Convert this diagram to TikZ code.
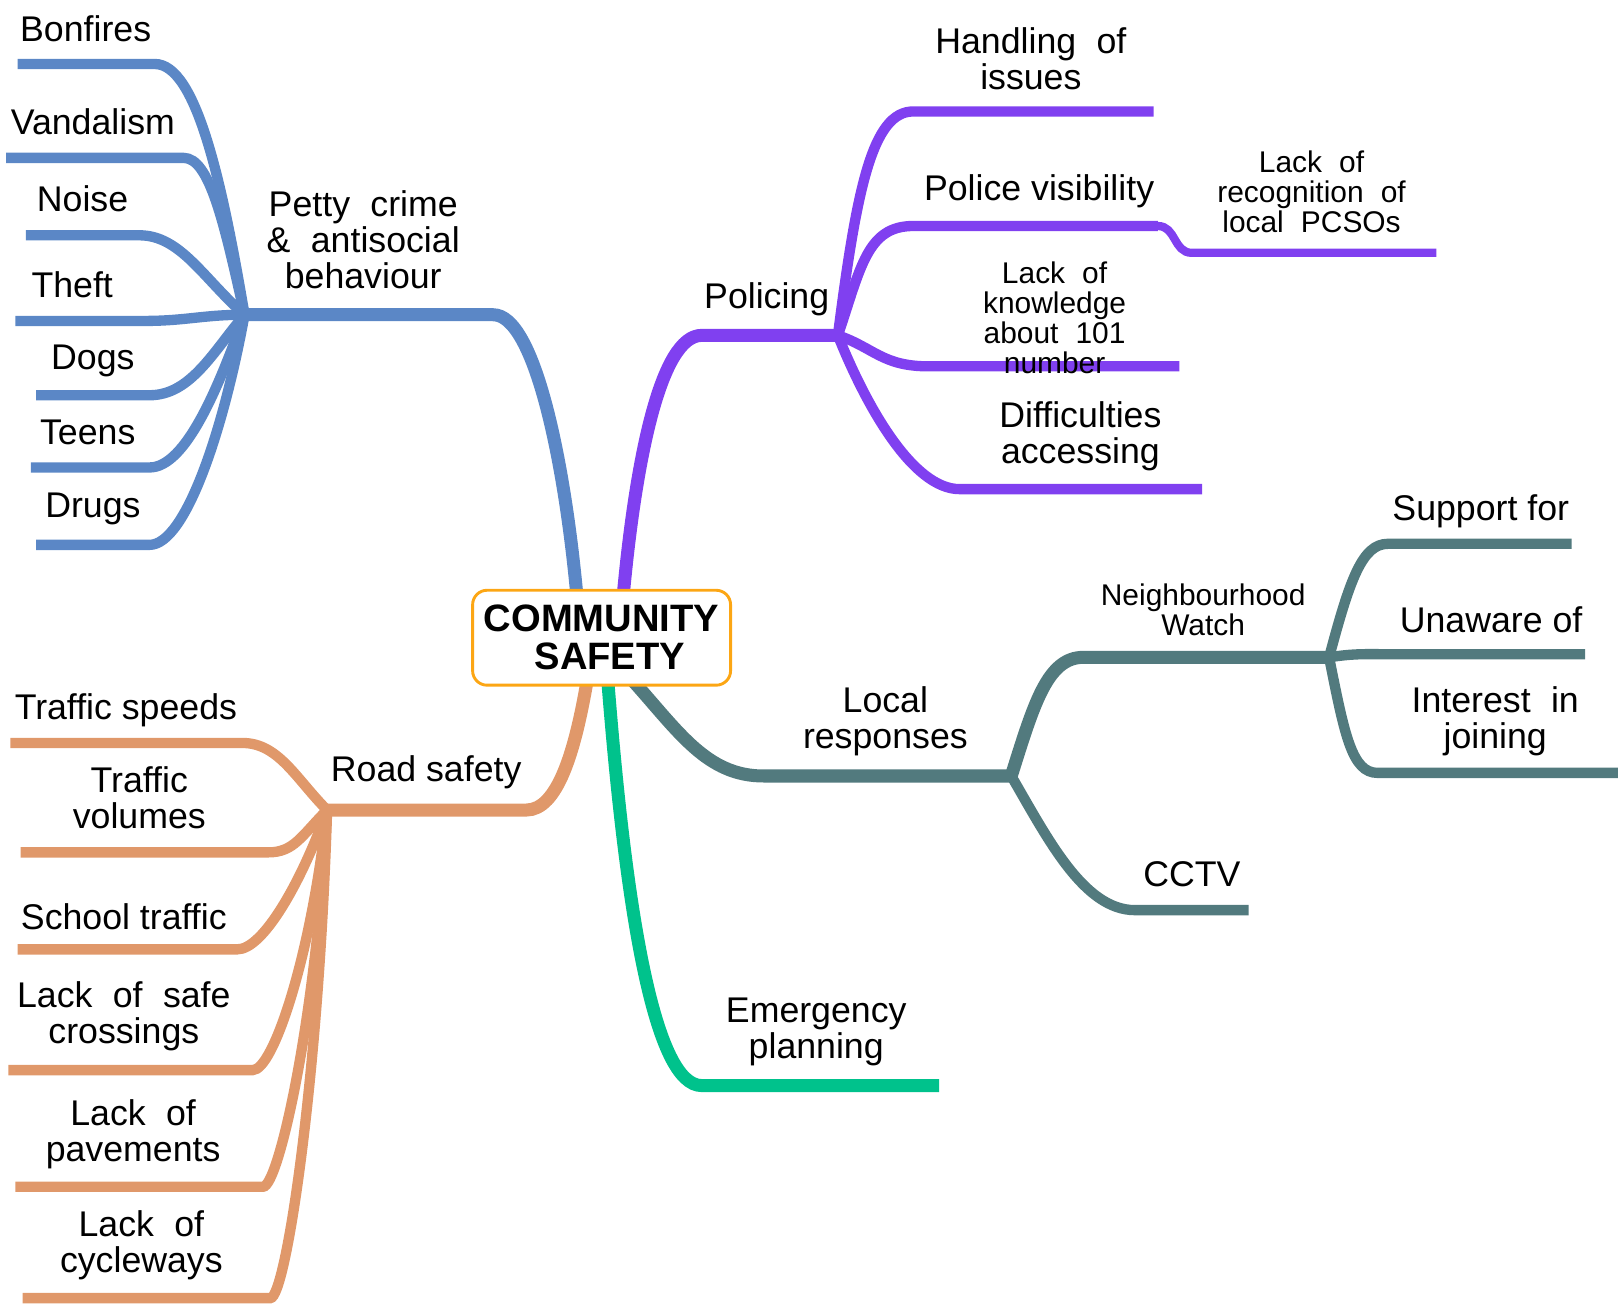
\documentclass[tikz,border=0pt]{standalone}
\usepackage{fontspec}
\setmainfont{Liberation Sans}
\usepackage{tikz}
\usetikzlibrary{backgrounds}
\definecolor{pettyblue}{RGB}{91,135,198}
\definecolor{policepurple}{RGB}{128,64,240}
\definecolor{localteal}{RGB}{82,122,126}
\definecolor{emergreen}{RGB}{0,194,140}
\definecolor{roadorange}{RGB}{224,152,106}
\definecolor{boxorange}{RGB}{252,166,20}
\newcommand{\widespaces}{\spaceskip=0.57em\relax}

\begin{document}
\begin{tikzpicture}[x=0.5pt, y=-0.5pt,
  trunk/.style={line width=6.3pt},
  leaf/.style={line width=5pt},
  twig/.style={line width=4pt},
  lbl/.style={font=\fontsize{17.3}{17.5}\selectfont, align=center, inner sep=0pt, yshift=-1.5pt},
  wide/.style={lbl, execute at begin node=\widespaces},
  small/.style={font=\fontsize{14.5}{14.5}\selectfont, align=center, inner sep=0pt, yshift=-1pt, execute at begin node=\widespaces}]
  \useasboundingbox (0,0) rectangle (1568,1266);
  % Centre
  \node[draw=boxorange, line width=1.4pt, rounded corners=7pt, fill=white,
    minimum width=125pt, minimum height=46pt, align=center,
    font=\fontsize{18.5}{18.5}\selectfont\bfseries] (cs) at (583,618) {COMMUNITY\\\hspace*{8pt}SAFETY};
  % Hubs
  \coordinate (pc) at (237,305);
  \coordinate (pc-t) at (478,305);
  \coordinate (pp) at (812,325);
  \coordinate (pp-t) at (680,325);
  \coordinate (lr) at (980,752);
  \coordinate (lr-t) at (740,752);
  \coordinate (nw) at (1288,637);
  \coordinate (nw-t) at (1050,637);
  \coordinate (ep-t) at (680,1052);
  \coordinate (ep-e) at (910,1052);
  \coordinate (rs) at (317,785);
  \coordinate (rs-t) at (510,785);
  % Trunks
  \begin{scope}[on background layer]
    \draw[pettyblue, trunk] ([xshift=-12pt,yshift=-3pt]cs.north) .. controls +(-12,-130) and +(40,0) .. (pc-t) -- (pc);
    \draw[policepurple, trunk] ([xshift=10.5pt,yshift=-3pt]cs.north) .. controls +(12,-130) and +(-40,0) .. (pp-t) -- (pp);
    \draw[roadorange, trunk] ([xshift=-7pt,yshift=3pt]cs.south) .. controls +(-12,70) and +(30,0) .. (rs-t) -- (rs);
    \draw[emergreen, trunk] ([xshift=3pt,yshift=3pt]cs.south) .. controls +(18,230) and +(-45,0) .. (ep-t) -- (ep-e);
    \draw[localteal, trunk] ([xshift=15pt,yshift=3pt]cs.south) .. controls +(45,50) and +(-55,0) .. (lr-t) -- (lr);
  \end{scope}

  % Petty crime & antisocial behaviour
  \node[wide] (petty) at (352,229) {Petty crime\\\& antisocial\\behaviour};
  \node[lbl] (bonfires) at (83,25) {Bonfires};
  \node[lbl] (vandalism) at (90,115) {Vandalism};
  \node[lbl] (noise) at (80,190) {Noise};
  \node[lbl] (theft) at (70,273) {Theft};
  \node[lbl] (dogs) at (90,347) {Dogs};
  \node[lbl] (teens) at (85,416) {Teens};
  \node[lbl] (drugs) at (90,490) {Drugs};
  \coordinate (bonfires-j) at (150,62);   \coordinate (bonfires-e) at (17,62);
  \coordinate (vandalism-j) at (178,153); \coordinate (vandalism-e) at (6,153);
  \coordinate (noise-j) at (135,228);     \coordinate (noise-e) at (25,228);
  \coordinate (theft-j) at (140,311);     \coordinate (theft-e) at (15,311);
  \coordinate (dogs-j) at (145,383);      \coordinate (dogs-e) at (35,383);
  \coordinate (teens-j) at (145,453);     \coordinate (teens-e) at (30,453);
  \coordinate (drugs-j) at (145,528);     \coordinate (drugs-e) at (35,528);
  \draw[pettyblue, leaf] (pc) .. controls +(-22,-130) and +(40,0) .. (bonfires-j) -- (bonfires-e);
  \draw[pettyblue, leaf] (pc) .. controls +(-20,-90) and +(25,0) .. (vandalism-j) -- (vandalism-e);
  \draw[pettyblue, leaf] (pc) .. controls +(-40,-35) and +(40,0) .. (noise-j) -- (noise-e);
  \draw[pettyblue, leaf] (pc) .. controls +(-40,0) and +(40,0) .. (theft-j) -- (theft-e);
  \draw[pettyblue, leaf] (pc) .. controls +(-30,35) and +(40,0) .. (dogs-j) -- (dogs-e);
  \draw[pettyblue, leaf] (pc) .. controls +(-25,70) and +(35,0) .. (teens-j) -- (teens-e);
  \draw[pettyblue, leaf] (pc) .. controls +(-20,110) and +(35,0) .. (drugs-j) -- (drugs-e);

  % Policing
  \node[lbl] (policing) at (743,287) {Policing};
  \node[wide] (handling) at (999,54) {Handling of\\issues};
  \node[lbl] (visibility) at (1007,182) {Police visibility};
  \node[small] (pcso) at (1271,184) {Lack of\\recognition of\\local PCSOs};
  \node[wide] (difficult) at (1047,420) {Difficulties\\accessing};
  \coordinate (handling-j) at (885,108);  \coordinate (handling-e) at (1118,108);
  \coordinate (visibility-j) at (885,219); \coordinate (visibility-e) at (1122,219);
  \coordinate (pcso-j) at (1155,245);      \coordinate (pcso-e) at (1392,245);
  \coordinate (knowledge-j) at (900,355);  \coordinate (knowledge-e) at (1143,355);
  \coordinate (difficult-j) at (930,474);  \coordinate (difficult-e) at (1165,474);
  \draw[policepurple, leaf] (pp) .. controls +(18,-140) and +(-40,0) .. (handling-j) -- (handling-e);
  \draw[policepurple, leaf] (pp) .. controls +(22,-65) and +(-45,0) .. (visibility-j) -- (visibility-e);
  \draw[policepurple, twig] (visibility-e) .. controls +(18,0) and +(-18,0) .. (pcso-j) -- (pcso-e);
  \draw[policepurple, leaf] (pp) .. controls +(35,12) and +(-45,0) .. (knowledge-j) -- (knowledge-e);
  \draw[policepurple, leaf] (pp) .. controls +(28,70) and +(-45,0) .. (difficult-j) -- (difficult-e);
  \node[small] (knowledge) at (1022,306) {Lack of\\knowledge\\about 101\\number};

  % Local responses
  \node[lbl] (local) at (858,696) {Local\\responses};
  \node[small] (watch) at (1166,589) {Neighbourhood\\Watch};
  \node[lbl] (support) at (1435,492) {Support for};
  \node[lbl] (unaware) at (1445,598) {Unaware of};
  \node[wide] (interest) at (1449,696) {Interest in\\joining};
  \node[lbl] (cctv) at (1155,844) {CCTV};
  \coordinate (support-j) at (1345,527);  \coordinate (support-e) at (1523,527);
  \coordinate (unaware-j) at (1350,634);  \coordinate (unaware-e) at (1536,634);
  \coordinate (interest-j) at (1335,749); \coordinate (interest-e) at (1568,749);
  \coordinate (cctv-j) at (1100,882);     \coordinate (cctv-e) at (1210,882);
  \draw[localteal, trunk] (lr) .. controls +(22,-70) and +(-35,0) .. (nw-t) -- (nw);
  \draw[localteal, leaf] (nw) .. controls +(20,-75) and +(-25,0) .. (support-j) -- (support-e);
  \draw[localteal, leaf] (nw) .. controls +(25,-4) and +(-25,0) .. (unaware-j) -- (unaware-e);
  \draw[localteal, leaf] (nw) .. controls +(15,75) and +(-25,0) .. (interest-j) -- (interest-e);
  \draw[localteal, leaf] (lr) .. controls +(35,60) and +(-50,0) .. (cctv-j) -- (cctv-e);

  % Emergency planning
  \node[lbl] (emergency) at (791,997) {Emergency\\planning};

  % Road safety
  \node[lbl] (road) at (413,745) {Road safety};
  \node[lbl] (speeds) at (122,685) {Traffic speeds};
  \node[lbl] (volumes) at (135,770) {Traffic\\volumes};
  \node[lbl] (school) at (120,885) {School traffic};
  \node[wide] (crossings) at (120,982) {Lack of safe\\crossings};
  \node[wide] (pavements) at (129,1096) {Lack of\\pavements};
  \node[wide] (cycleways) at (137,1204) {Lack of\\cycleways};
  \coordinate (speeds-j) at (235,720);     \coordinate (speeds-e) at (10,720);
  \coordinate (volumes-j) at (260,826);    \coordinate (volumes-e) at (20,826);
  \coordinate (school-j) at (230,920);     \coordinate (school-e) at (17,920);
  \coordinate (crossings-j) at (245,1037); \coordinate (crossings-e) at (8,1037);
  \coordinate (pavements-j) at (255,1150); \coordinate (pavements-e) at (15,1150);
  \coordinate (cycleways-j) at (262,1258); \coordinate (cycleways-e) at (22,1258);
  \draw[roadorange, leaf] (rs) .. controls +(-30,-30) and +(35,0) .. (speeds-j) -- (speeds-e);
  \draw[roadorange, leaf] (rs) .. controls +(-25,25) and +(25,0) .. (volumes-j) -- (volumes-e);
  \draw[roadorange, leaf] (rs) .. controls +(-25,70) and +(25,0) .. (school-j) -- (school-e);
  \draw[roadorange, leaf] (rs) .. controls +(-15,140) and +(20,0) .. (crossings-j) -- (crossings-e);
  \draw[roadorange, leaf] (rs) .. controls +(-10,200) and +(15,0) .. (pavements-j) -- (pavements-e);
  \draw[roadorange, leaf] (rs) .. controls +(-8,260) and +(15,0) .. (cycleways-j) -- (cycleways-e);
\end{tikzpicture}
\end{document}
